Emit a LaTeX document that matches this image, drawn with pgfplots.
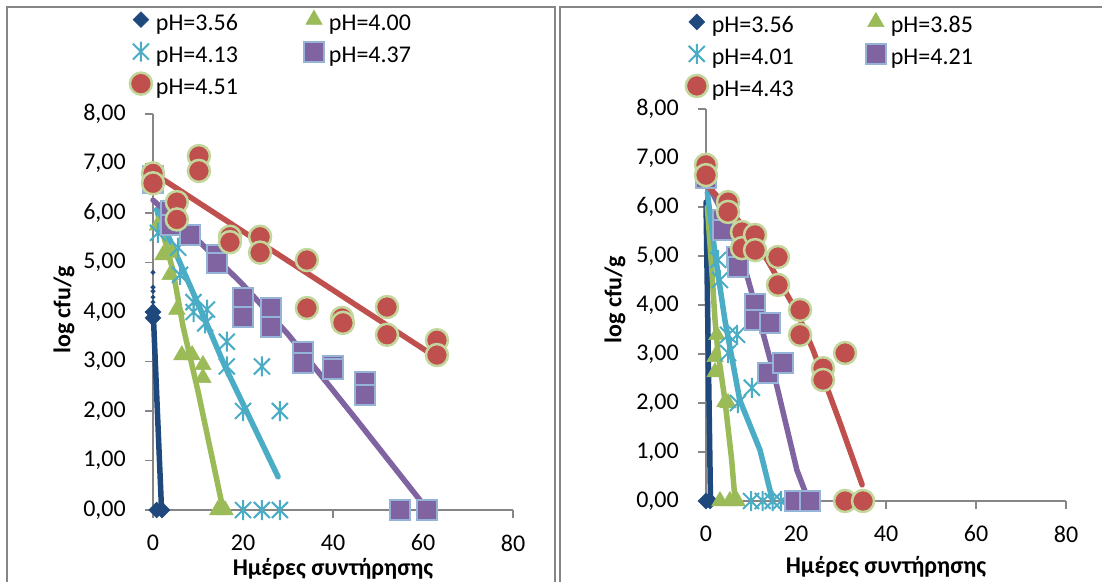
\documentclass[border=0pt]{standalone}
\usepackage{fontspec}
\setmainfont{Carlito}
\usepackage{pgfplots}
\pgfplotsset{compat=1.18}
\definecolor{cblue}{RGB}{31,73,125}
\definecolor{cgreen}{RGB}{155,187,89}
\definecolor{ccyan}{RGB}{75,172,198}
\definecolor{cpurple}{RGB}{128,100,162}
\definecolor{cred}{RGB}{192,80,77}
\definecolor{credge}{RGB}{195,214,155}
\definecolor{csqedge}{RGB}{149,179,215}
\definecolor{axgray}{RGB}{134,134,134}
\pgfdeclareplotmark{xstar}{%
  \pgfpathmoveto{\pgfqpoint{0pt}{\pgfplotmarksize}}%
  \pgfpathlineto{\pgfqpoint{0pt}{-\pgfplotmarksize}}%
  \pgfpathmoveto{\pgfqpoint{-.8\pgfplotmarksize}{.8\pgfplotmarksize}}%
  \pgfpathlineto{\pgfqpoint{.8\pgfplotmarksize}{-.8\pgfplotmarksize}}%
  \pgfpathmoveto{\pgfqpoint{-.8\pgfplotmarksize}{-.8\pgfplotmarksize}}%
  \pgfpathlineto{\pgfqpoint{.8\pgfplotmarksize}{.8\pgfplotmarksize}}%
  \pgfusepathqstroke}
\pgfplotsset{
  excel/.style={
    scale only axis, width=360pt,
    xmin=0, xmax=80, ymin=0, ymax=8,
    axis x line=bottom, axis y line=left,
    axis line style={axgray, line width=1.5pt, -},
    xtick={0,20,40,60,80}, ytick={0,1,...,8},
    tick style={axgray, line width=1.5pt},
    tick align=outside, major tick length=8pt,
    clip=false,
    font=\fontsize{24}{28}\selectfont,
    tick label style={font=\fontsize{24}{28}\selectfont, inner sep=1pt},
    /pgf/number format/assume math mode=true,
    yticklabel style={/pgf/number format/.cd, fixed, fixed zerofill, precision=2, use comma, /tikz/.cd, xshift=-18pt},
    xticklabel style={yshift=-15.5pt},
    xlabel={Ημέρες συντήρησης}, ylabel={log cfu/g},
    label style={font=\fontsize{24}{28}\selectfont\bfseries, inner sep=1pt},
    legend columns=2, legend cell align=left,
    legend image code/.code={%
      \begin{pgfinterruptboundingbox}
      \draw[##1] plot coordinates {(7pt,5pt)};
      \end{pgfinterruptboundingbox}
      \path[draw=none,fill=none] (0pt,0pt) rectangle (14pt,12pt);},
  },
  s1/.style={color=cblue, only marks, mark=square*, mark size=5.6pt,
    mark options={rotate=45, fill=cblue, draw=cblue, line width=0.5pt}},
  s2/.style={color=cgreen, only marks, mark=triangle*, mark size=9.5pt,
    mark options={fill=cgreen, draw=cgreen, line width=0.5pt}},
  s3/.style={color=ccyan, only marks, mark=xstar, mark size=10pt,
    mark options={draw=ccyan, line width=2pt}},
  s4/.style={color=cpurple, only marks, mark=square*, mark size=10pt,
    mark options={fill=cpurple, draw=csqedge, line width=2pt}},
  s5/.style={color=cred, only marks, mark=*, mark size=11pt,
    mark options={fill=cred, draw=credge, line width=2.5pt}},
  trend/.style={no marks, line width=5.5pt, line cap=round, line join=round, forget plot},
  lg/.style={legend style={draw=none, fill=none, anchor=north west,
    inner sep=0pt, outer sep=0pt, row sep=8pt,
    font=\fontsize{24}{28}\selectfont,
    nodes={inner sep=1pt, text height=17pt, text depth=5pt},
    /tikz/every odd column/.style={column sep=7pt},
    /tikz/every even column/.style={column sep=#1}}},
}
\begin{document}
\begin{tikzpicture}
\useasboundingbox (0pt,0pt) rectangle (1102pt,581pt);
\draw[axgray, line width=1.5pt] (7pt,-5pt) -- (7pt,574pt) -- (555pt,574pt) -- (555pt,-5pt);
\draw[axgray, line width=1.5pt] (560pt,-5pt) -- (560pt,574pt) -- (1110pt,574pt);

% ---------------- left panel ----------------
\begin{axis}[excel, height=396pt, at={(153pt,71pt)}, anchor=south west,
  xlabel style={at={(axis description cs:0.5,-0.149)}, anchor=center},
  ylabel style={at={(axis description cs:-0.247,0.505)}, anchor=center},
  lg=68pt, legend style={at={(axis description cs:-0.053,1.256)}},
]
\addplot[trend, cblue] coordinates {(0,4.1) (1.9,0)};
\addplot[forget plot, only marks, mark=square*, mark size=1.6pt, mark options={rotate=45, fill=cblue, draw=cblue}] coordinates {(0,4.8) (0,4.5) (0,4.42) (0,4.3) (0,4.2)};
\addplot[trend, cgreen] coordinates {(1,6.0) (4.4,4.85) (6.7,3.7) (10,2.4) (15.6,0)};
\addplot[trend, ccyan] coordinates {(0.8,6.07) (12,3.75) (16,2.9) (27.8,0.67)};
\addplot[trend, cpurple] coordinates {(0,6.26) (10,5.45) (20,4.55) (30,3.55) (45,1.85) (60.2,0.1)};
\addplot[trend, cred] coordinates {(0.5,6.78) (61,3.2)};

\addplot[s1] coordinates {(0,4.0) (0,3.88) (0.8,0) (2,0)};
\addlegendentry{pH=3.56}
\addplot[s2] coordinates {(1,5.75) (2.2,5.15) (4.2,5.2) (3.8,4.75) (5.3,4.05) (6.4,3.13) (8.7,3.13) (11.1,2.93) (11.1,2.67) (14.4,0) (16,0)};
\addlegendentry{pH=4.00}
\addplot[s3] coordinates {(1.1,5.6) (5.6,5.3) (6,4.75) (9,4.2) (9,4.0) (12,4.05) (11.6,3.77) (16.4,3.4) (16.4,2.9) (24.2,2.9) (20,2.0) (28.2,2.0) (20,0) (24.2,0) (28.2,0)};
\addlegendentry{pH=4.13}
\addplot[s4] coordinates {(0,6.75) (0,6.6) (4,6.05) (4,5.76) (8.2,5.55) (14.2,5.15) (14.2,5.0) (20,4.28) (20,3.9) (26.2,4.08) (26.2,3.7) (33.3,3.19) (33.3,2.97) (40,2.9) (40,2.85) (47.1,2.59) (47.1,2.32) (54.9,0) (60.8,0)};
\addlegendentry{pH=4.37}
\addplot[s5] coordinates {(0,6.8) (0,6.6) (5.3,6.22) (5.3,5.87) (10.2,7.15) (10.2,6.85) (17.1,5.52) (17.1,5.41) (23.8,5.52) (23.8,5.2) (34.2,5.05) (34.2,4.08) (42,3.88) (42.2,3.78) (52,4.1) (52,3.54) (63.1,3.43) (63.1,3.13)};
\addlegendentry{pH=4.51}
\end{axis}

% ---------------- right panel ----------------
\begin{axis}[excel, height=392pt, at={(706pt,80pt)}, anchor=south west,
  xlabel style={at={(axis description cs:0.5,-0.168)}, anchor=center},
  ylabel style={at={(axis description cs:-0.253,0.513)}, anchor=center},
  lg=74pt, legend style={at={(axis description cs:-0.045,1.24)}},
]
\addplot[trend, cblue] coordinates {(0,6.1) (1.0,0)};
\addplot[trend, cgreen] coordinates {(0.3,6.0) (1.3,4.7) (2.0,3.7) (2.6,3.08) (4.2,2.06) (5.7,0.84) (6.4,0.08)};
\addplot[trend, ccyan] coordinates {(0.3,6.3) (2,5.05) (4.2,3.69) (7.5,2.06) (12,1.04) (14.6,0.08)};
\addplot[trend, cpurple] coordinates {(0.5,6.45) (4.9,5.67) (9.1,4.6) (12,3.65) (14.9,2.67) (20.2,0.63) (22.4,0.1)};
\addplot[trend, cred] coordinates {(0.2,6.45) (6,5.87) (13.6,4.92) (20.2,3.86) (23.8,3.08) (29.8,1.59) (34.7,0.33)};

\addplot[s1] coordinates {(0,0) (0.9,0)};
\addlegendentry{pH=3.56}
\addplot[s2] coordinates {(2.4,3.39) (2,2.94) (2,2.63) (4.2,2.02) (4.9,2.0) (3.1,0) (5.3,0) (6.9,0)};
\addlegendentry{pH=3.85}
\addplot[s3] coordinates {(2.7,4.92) (3.1,4.51) (4.9,3.39) (6.9,3.39) (4.9,3.02) (7.1,2.0) (10.2,2.31) (10,0) (12.6,0) (14.8,0) (16.7,0)};
\addlegendentry{pH=4.01}
\addplot[s4] coordinates {(0,6.75) (0,6.6) (3.8,5.73) (3.8,5.53) (6.9,4.98) (7.1,4.78) (10.9,4.02) (10.9,3.69) (14.2,3.63) (13.8,2.61) (17.1,2.81) (19.8,0) (23.1,0)};
\addlegendentry{pH=4.21}
\addplot[s5] coordinates {(0,6.86) (0,6.65) (4.9,6.1) (4.9,5.9) (8,5.49) (8,5.16) (10.9,5.43) (10.9,5.12) (16,4.98) (16,4.41) (20.9,3.9) (20.9,3.39) (26,2.71) (26,2.47) (30.9,3.02) (30.9,0) (34.9,0)};
\addlegendentry{pH=4.43}
\end{axis}
\end{tikzpicture}
\end{document}
